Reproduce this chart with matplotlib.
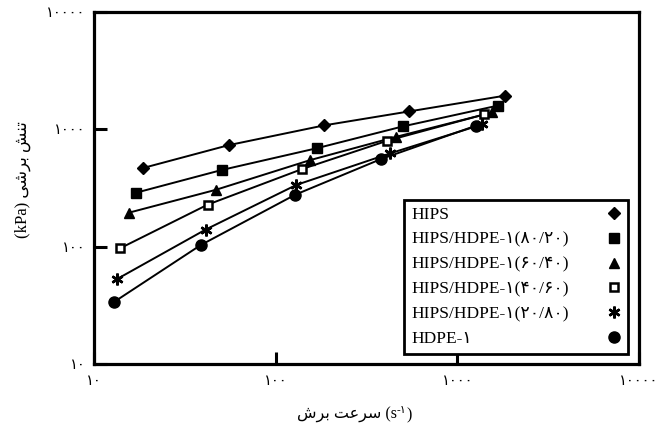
import copy
import matplotlib
matplotlib.use('Agg')
import matplotlib.pyplot as plt
from matplotlib.ticker import NullLocator

plt.rcParams['font.family'] = ['Liberation Serif', 'DejaVu Sans']

# persian digits
FA = str.maketrans('0123456789', ''.join(chr(0x6f0 + i) for i in range(10)))

def fa(s):
    return s.translate(FA)

names = ['HIPS', fa('HIPS/HDPE-1(80/20)'), fa('HIPS/HDPE-1(60/40)'),
         fa('HIPS/HDPE-1(40/60)'), fa('HIPS/HDPE-1(20/80)'), fa('HDPE-1')]

rate_hips = [18.6, 55.1, 185, 541, 1837]
stress_hips = [468, 733, 1081, 1420, 1938]
rate_8020 = [17.0, 50.4, 169, 501, 1680]
stress_8020 = [288, 450, 691, 1059, 1596]
rate_6040 = [15.6, 46.8, 155, 461, 1559]
stress_6040 = [195, 305, 547, 864, 1393]
rate_4060 = [13.9, 42.2, 140, 412, 1409]
stress_4060 = [96.8, 228, 459, 800, 1341]
rate_2080 = [13.4, 41.2, 130, 428, 1374]
stress_2080 = [53.0, 140, 336, 625, 1102]
rate_hdpe = [12.9, 38.6, 128, 379, 1274]
stress_hdpe = [33.8, 103, 277, 557, 1078]

ticks = [10, 100, 1000, 10000]
tick_labels = [fa(str(t)) for t in ticks]

# shaped persian text in visual (left to right) order
xlab_fa = '\ufeb5\ufeae\ufe91 \ufe96\ufecb\ufeae\ufeb3'     # سرعت برش
ylab_fa = '\ufef0\ufeb7\ufeae\ufe91 \ufeb6\ufee8\ufe97'     # تنش برشی

fig = plt.figure(figsize=(6.6, 4.26), dpi=100)
ax = fig.add_axes([94/660, 62/426, 545/660, 352/426])

ax.plot(rate_hips, stress_hips, 'k-', lw=1.4, marker='D', ms=6.5, mfc='k', label=names[0])
ax.plot(rate_8020, stress_8020, 'k-', lw=1.4, marker='s', ms=6.5, mfc='k', label=names[1])
ax.plot(rate_6040, stress_6040, 'k-', lw=1.4, marker='^', ms=7.5, mfc='k', label=names[2])
ax.plot(rate_4060, stress_4060, 'k-', lw=1.4, marker='s', ms=5.5, mfc='w', mew=1.8, label=names[3])
ax.plot(rate_2080, stress_2080, 'k-', lw=1.4, marker=(6, 2, 0), ms=8.5, mew=1.8, label=names[4])
ax.plot(rate_hdpe, stress_hdpe, 'k-', lw=1.4, marker='o', ms=8, mfc='k', label=names[5])

ax.set_xscale('log')
ax.set_yscale('log')
ax.set_xlim(10, 10000)
ax.set_ylim(10, 10000)
ax.set_xticks(ticks, tick_labels)
ax.set_yticks(ticks, tick_labels)
ax.xaxis.set_minor_locator(NullLocator())
ax.yaxis.set_minor_locator(NullLocator())
ax.tick_params(direction='in', length=9, width=2.2, labelsize=10.5, pad=6)
ax.tick_params(axis='x', pad=8)
for s in ax.spines.values():
    s.set_linewidth(2.3)

# legend: text on the left, marker only on the right
hs, ls = ax.get_legend_handles_labels()
hs2 = []
for h in hs:
    h2 = copy.copy(h)
    h2.set_linestyle('none')
    hs2.append(h2)
leg = ax.legend(hs2, ls, loc='lower right', bbox_to_anchor=(0.98, 0.028),
                borderaxespad=0, markerfirst=False, fontsize=12.5, frameon=True,
                fancybox=False, edgecolor='k', framealpha=1, borderpad=0.4,
                labelspacing=0.5, handlelength=0.8, handletextpad=1.0)
leg.get_frame().set_linewidth(2)
for col in leg._legend_handle_box.get_children():
    col.width = 210
    col.align = 'left'
    for item in col.get_children():
        item.mode = 'expand'

fig.text(23/660, 1 - 180/426, '(kPa) ' + ylab_fa, rotation=90,
         ha='center', va='center', fontsize=12)

t1 = fig.text(297/660, 7/426, xlab_fa + ' (s', ha='left', va='baseline', fontsize=11.5)
t2 = ax.annotate(fa('-1'), xy=(1, 0.5), xycoords=t1, ha='left', va='bottom',
                 fontsize=8, annotation_clip=False)
t3 = ax.annotate(')', xy=(1, 0), xycoords=(t2, t1), ha='left', va='bottom',
                 fontsize=11.5, annotation_clip=False)

fig.savefig('out.png', dpi=100)
